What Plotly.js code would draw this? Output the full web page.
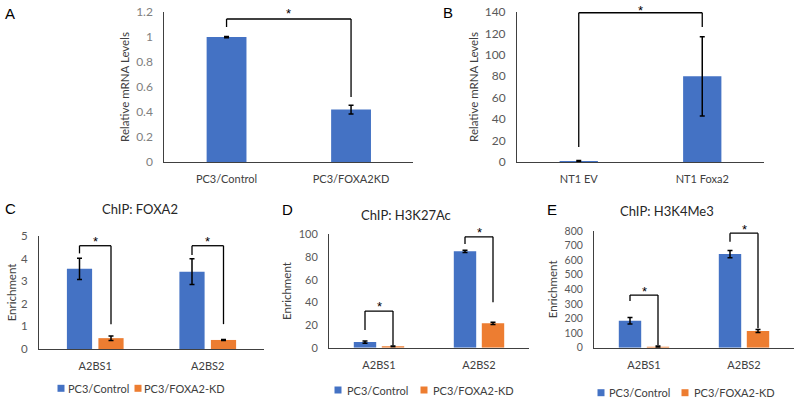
<!DOCTYPE html>
<html><head><meta charset="utf-8">
<script src="https://cdn.plot.ly/plotly-3.0.1.min.js"></script>
<style>html,body{margin:0;padding:0;background:#fff}#chart{width:800px;height:403px}</style>
</head><body><div id="chart"></div>
<script>
// ---------- DATA ----------
// Panel A
const catsA = ['PC3/Control', 'PC3/FOXA2KD'];
const valsA = [1.0, 0.42];
const errA = [0.005, 0.035];
// Panel B
const catsB = ['NT1 EV', 'NT1 Foxa2'];
const valsB = [1.0, 80];
const errB = [0.4, 37];
// Panels C-E (ChIP)
const sites = ['A2BS1', 'A2BS2'];
const seriesNames = ['PC3/Control', 'PC3/FOXA2-KD'];
const ctrlC = [3.55, 3.42];  const errCtrlC = [0.47, 0.57];
const kdC   = [0.48, 0.40];  const errKdC   = [0.10, 0.02];
const ctrlD = [5, 85];       const errCtrlD = [1.0, 1.0];
const kdD   = [1.2, 21.5];   const errKdD   = [0.3, 1.0];
const ctrlE = [185, 642];    const errCtrlE = [22, 25];
const kdE   = [7, 114];      const errKdE   = [4, 10];
const chipTitles = ['ChIP: FOXA2', 'ChIP: H3K27Ac', 'ChIP: H3K4Me3'];
const panelLetters = ['A', 'B', 'C', 'D', 'E'];
const yTitleA = 'Relative mRNA Levels';
const yTitleChip = 'Enrichment';

// ---------- STYLE ----------
const FONT = 'Lato, Carlito, "Open Sans", sans-serif';
const BLUE = '#4472C4', ORANGE = '#ED7D31';
const LINE = '#404040';
const W = 800, H = 403;
const px = v => v / W;
const py = v => 1 - v / H;

const errStyle = arr => ({type: 'data', array: arr, visible: true, color: '#000', thickness: 1.5, width: 2.5});

const traces = [];
// A
traces.push({type: 'bar', x: catsA, y: valsA, error_y: errStyle(errA), marker: {color: BLUE},
  width: 0.32, offset: -0.16, xaxis: 'x', yaxis: 'y', showlegend: false, hoverinfo: 'x+y'});
// B
traces.push({type: 'bar', x: catsB, y: valsB, error_y: errStyle(errB), marker: {color: BLUE},
  width: 0.31, offset: -0.155, xaxis: 'x2', yaxis: 'y2', showlegend: false, hoverinfo: 'x+y'});
// C, D, E
const chip = [
  [ctrlC, errCtrlC, kdC, errKdC, 'x3', 'y3'],
  [ctrlD, errCtrlD, kdD, errKdD, 'x4', 'y4'],
  [ctrlE, errCtrlE, kdE, errKdE, 'x5', 'y5'],
];
chip.forEach(([c, ec, k, ek, xa, ya]) => {
  traces.push({type: 'bar', name: seriesNames[0], x: sites, y: c, error_y: errStyle(ec),
    marker: {color: BLUE}, xaxis: xa, yaxis: ya, showlegend: false});
  traces.push({type: 'bar', name: seriesNames[1], x: sites, y: k, error_y: errStyle(ek),
    marker: {color: ORANGE}, xaxis: xa, yaxis: ya, showlegend: false});
});

// ---------- AXES ----------
function xAx(d0, d1, yname, fsize) {
  return {domain: [px(d0), px(d1)], anchor: yname, type: 'category', range: [-0.5, 1.5],
    showline: true, linecolor: LINE, linewidth: 1, showgrid: false, zeroline: false, ticks: '',
    ticklabelstandoff: 7, tickfont: {family: FONT, size: fsize, color: '#404040'}, fixedrange: true};
}
function yAx(top, bottom, range, dtick, xname, title, tcolor, tsize, standoff) {
  return {domain: [py(bottom), py(top)], anchor: xname, range: range, dtick: dtick,
    showline: true, linecolor: LINE, linewidth: 1, showgrid: false, zeroline: false, ticks: '',
    ticklabelstandoff: 8, tickfont: {family: FONT, size: tsize, color: tcolor}, fixedrange: true,
    title: {text: title, font: {family: FONT, size: 11.5, color: '#404040'}, standoff: standoff}};
}

const layout = {
  width: W, height: H, margin: {l: 0, r: 0, t: 0, b: 0},
  paper_bgcolor: '#fff', plot_bgcolor: 'rgba(0,0,0,0)', showlegend: false,
  barmode: 'group', bargap: 0.44, bargroupgap: 0.2,
  font: {family: FONT},
  xaxis:  xAx(164.3, 413.3, 'y', 11),
  yaxis:  yAx(12, 162, [0, 1.2], 0.2, 'x', yTitleA, '#808080', 12, 4),
  xaxis2: xAx(517, 764, 'y2', 11),
  yaxis2: yAx(12, 162, [0, 140], 20, 'x2', yTitleA, '#595959', 12, 3),
  xaxis3: xAx(39, 264, 'y3', 11),
  yaxis3: yAx(236, 349, [0, 5], 1, 'x3', yTitleChip, '#595959', 11.5, 2),
  xaxis4: xAx(329, 529, 'y4', 11),
  yaxis4: yAx(234.3, 347.7, [0, 100], 20, 'x4', yTitleChip, '#595959', 11, 4),
  xaxis5: xAx(594, 794, 'y5', 11),
  yaxis5: yAx(231, 347.7, [0, 800], 100, 'x5', yTitleChip, '#595959', 10.5, 4),
  shapes: [], annotations: []
};

// ---------- SIGNIFICANCE BRACKETS ----------
// [xaxis, yaxis, xLeft, xRight, leftBottom, top, rightBottom, starPixelsAboveTop]
const OFF = 0.14;
const brackets = [
  ['x', 'y', 0, 1, 1.08, 1.144, 0.52, 8],
  ['x2', 'y2', 0, 1, 14, 139.3, 126, 5],
  ['x3', 'y3', 0 - OFF, 0 + OFF, 4.23, 4.57, 1.1, 7],
  ['x3', 'y3', 1 - OFF, 1 + OFF, 4.16, 4.57, 1.1, 7],
  ['x4', 'y4', 0 - OFF, 0 + OFF, 15.6, 32.3, 2.0, 8],
  ['x4', 'y4', 1 - OFF, 1 + OFF, 91.4, 97.8, 40, 7],
  ['x5', 'y5', 0 - OFF, 0 + OFF, 320, 361, 18, 7],
  ['x5', 'y5', 1 - OFF, 1 + OFF, 727, 785, 133, 7],
];
const bl = {color: '#000', width: 1.3};
brackets.forEach(([xa, ya, x0, x1, lb, top, rb, sp]) => {
  layout.shapes.push({type: 'line', xref: xa, yref: ya, x0: x0, x1: x0, y0: lb, y1: top, line: bl});
  layout.shapes.push({type: 'line', xref: xa, yref: ya, x0: x0, x1: x1, y0: top, y1: top, line: bl});
  layout.shapes.push({type: 'line', xref: xa, yref: ya, x0: x1, x1: x1, y0: top, y1: rb, line: bl});
  layout.annotations.push({xref: xa, yref: ya, x: (x0 + x1) / 2, y: top, text: '*', showarrow: false,
    font: {family: 'Liberation Sans, Arial, sans-serif', size: 13, color: '#000'},
    yanchor: 'middle', yshift: sp - 3});
});

// ---------- PANEL LETTERS ----------
const letterPos = [[10, 14], [448, 13], [10, 208], [287, 209], [552, 209]];
panelLetters.forEach((t, i) => {
  layout.annotations.push({xref: 'paper', yref: 'paper', x: px(letterPos[i][0]), y: py(letterPos[i][1]),
    text: t, showarrow: false, xanchor: 'center', yanchor: 'middle',
    font: {family: 'Liberation Sans, Arial, sans-serif', size: 15, color: '#000'}});
});

// ---------- CHIP TITLES ----------
const titlePos = [[140, 209], [405.7, 215], [666.7, 211]];
chipTitles.forEach((t, i) => {
  layout.annotations.push({xref: 'paper', yref: 'paper', x: px(titlePos[i][0]), y: py(titlePos[i][1]),
    text: t, showarrow: false, xanchor: 'center', yanchor: 'middle',
    font: {family: FONT, size: 13, color: '#262626'}});
});

// ---------- LEGENDS (C, D, E) ----------
// [blueSquareX, blueTextX, orangeSquareX, orangeTextX, y, fontSize]
const legendPos = [
  [61, 66, 138, 142, 388.3, 11],
  [338, 345, 424, 431, 390, 11],
  [601, 607, 685, 692, 392.7, 11],
];
const colors = [BLUE, ORANGE];
legendPos.forEach(([bx, bt, ox, ot, y, fs]) => {
  [[bx, bt], [ox, ot]].forEach(([sx, tx], j) => {
    layout.shapes.push({type: 'rect', xref: 'paper', yref: 'paper',
      x0: px(sx - 3.5), x1: px(sx + 3.5), y0: py(y + 3.5), y1: py(y - 3.5),
      fillcolor: colors[j], line: {width: 0}});
    layout.annotations.push({xref: 'paper', yref: 'paper', x: px(tx), y: py(y), text: seriesNames[j],
      showarrow: false, xanchor: 'left', yanchor: 'middle', font: {family: FONT, size: fs, color: '#404040'}});
  });
});

Plotly.newPlot('chart', traces, layout, {staticPlot: true, displayModeBar: false});
</script>
</body></html>
